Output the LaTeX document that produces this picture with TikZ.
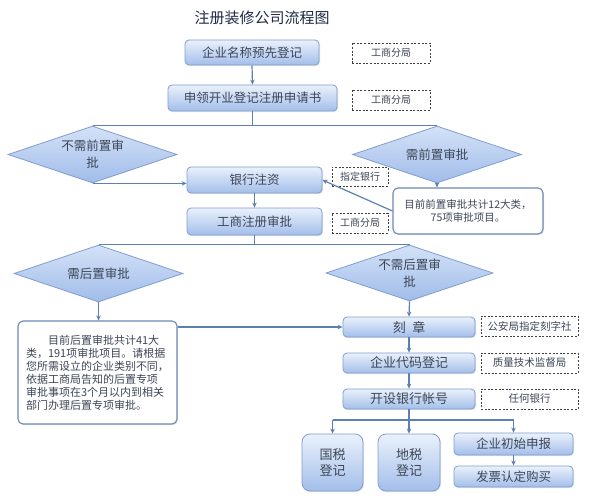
\documentclass[tikz,border=0pt]{standalone}
\usepackage{fontspec}
\setmainfont{Noto Sans CJK SC}
\usetikzlibrary{shapes.geometric,arrows.meta,shadows}
\definecolor{txt}{HTML}{3C4657}
\definecolor{ttl}{HTML}{1E2A44}
\definecolor{ln}{HTML}{5E7FB3}
\definecolor{bd}{HTML}{7F9DD0}
\definecolor{ctop}{HTML}{EAF1FB}
\definecolor{cbot}{HTML}{A3BEEA}
\definecolor{dtop}{HTML}{D4E2F7}
\definecolor{dbot}{HTML}{A0BCE9}
\definecolor{nbd}{HTML}{6E88B8}
\begin{document}
\begin{tikzpicture}[x=1pt,y=-1pt,
  every node/.style={text=txt, inner sep=0pt},
  box/.style={draw=bd, line width=0.8pt, rounded corners=4pt, top color=ctop, bottom color=cbot,
    drop shadow={shadow xshift=1pt,shadow yshift=-1.2pt,opacity=0.22},
    font=\fontsize{12.5}{15}\selectfont, align=center},
  bigbox/.style={box, font=\fontsize{13}{16}\selectfont},
  dia/.style={shape=diamond, aspect=3, draw=bd, line width=0.8pt, top color=dtop, bottom color=dbot,
    font=\fontsize{12.5}{17}\selectfont, align=center},
  dbox/.style={draw=black!75, dashed, dash pattern=on 2pt off 1.6pt, line width=0.7pt, fill=white,
    font=\fontsize{10}{12}\selectfont},
  notebox/.style={draw=nbd, line width=1.1pt, rounded corners=5pt, fill=white,
    drop shadow={shadow xshift=1pt,shadow yshift=-1.2pt,opacity=0.2}},
  conn/.style={draw=ln, line width=1.2pt},
  arr/.style={conn, -{Stealth[length=5pt,width=4.5pt]}}
]
\fill[white] (0,0) rectangle (597,500);
\useasboundingbox (0,0) rectangle (597,500);

\node[text=ttl, font=\fontsize{15}{18}\selectfont] (title) at (262,18) {注册装修公司流程图};

\node[box, minimum width=134pt, minimum height=25pt] (b1) at (252,52.5) {企业名称预先登记};
\node[dbox, minimum width=78pt, minimum height=20pt] (d1) at (391,53) {工商分局};
\node[box, minimum width=169pt, minimum height=26pt] (b2) at (252.5,98) {申领开业登记注册申请书};
\node[dbox, minimum width=78pt, minimum height=20pt] (d2) at (391,100) {工商分局};

\node[dia, minimum width=169pt, minimum height=57pt] (dia1) at (92.5,154.5) {不需前置审\\批};
\node[dia, minimum width=169pt, minimum height=57pt] (dia2) at (437,154.5) {需前置审批};

\node[box, minimum width=135pt, minimum height=26pt] (b3) at (254.5,180) {银行注资};
\node[dbox, minimum width=56pt, minimum height=19pt] (d3) at (360,176.5) {指定银行};
\node[notebox, minimum width=150pt, minimum height=46pt, align=center,
  font=\fontsize{10.5}{13}\selectfont] (n1) at (468,211) {目前前置审批共计12大类，\\75项审批项目。};
\node[box, minimum width=135pt, minimum height=27pt] (b4) at (254.5,221.5) {工商注册审批};
\node[dbox, minimum width=56pt, minimum height=20pt] (d4) at (360,223) {工商分局};

\node[dia, minimum width=169pt, minimum height=57pt] (dia3) at (98.5,273.5) {需后置审批};
\node[dia, minimum width=167pt, minimum height=56pt] (dia4) at (409.5,273) {不需后置审\\批};

\node[notebox, minimum width=159pt, minimum height=103pt] (n2) at (97.5,372.5) {};
\node[text width=143pt, align=left, font=\fontsize{11}{13}\selectfont] (n2t) at (n2.center)
  {\hspace*{2em}目前后置审批共计41大\\类，191项审批项目。请根据\\您所需设立的企业类别不同，\\依据工商局告知的后置专项\\审批事项在3个月以内到相关\\部门办理后置专项审批。};

\node[bigbox, minimum width=132pt, minimum height=20pt] (b5) at (409,327) {刻\hspace{0.5em}章};
\node[dbox, minimum width=97pt, minimum height=20pt, font=\fontsize{10.5}{12}\selectfont] (d5) at (529.5,326) {公安局指定刻字社};
\node[bigbox, minimum width=132pt, minimum height=20pt] (b6) at (409,363) {企业代码登记};
\node[dbox, minimum width=97pt, minimum height=20pt, font=\fontsize{10.5}{12}\selectfont] (d6) at (529.5,363) {质量技术监督局};
\node[bigbox, minimum width=132pt, minimum height=20pt] (b7) at (409,399) {开设银行帐号};
\node[dbox, minimum width=97pt, minimum height=20pt, font=\fontsize{10.5}{12}\selectfont] (d7) at (529.5,399) {任何银行};

\node[bigbox, rounded corners=8pt, minimum width=61pt, minimum height=57pt] (b8) at (332.5,462.5) {国税\\登记};
\node[bigbox, rounded corners=8pt, minimum width=62pt, minimum height=57pt] (b9) at (409,462.5) {地税\\登记};
\node[box, minimum width=119pt, minimum height=22pt] (b10) at (513.5,444) {企业初始申报};
\node[box, minimum width=119pt, minimum height=21pt] (b11) at (513.5,476.5) {发票认定购买};

\coordinate (br) at (409,420);

% connectors
\draw[arr] (b1.south) -- (b2.north);
\draw[conn] (b2.south) -- (b2.south |- dia1.north);
\draw[conn] (dia1.north) -- (dia2.north);
\draw[arr] (dia1.south) -- (dia1.south -| b3.west);
\draw[arr] (dia2.south) -- (n1.north -| dia2.south);
\draw[arr] (n1.west) -- (b3.east);
\draw[arr] (b3.south) -- (b4.north);
\draw[conn] (b4.south) -- (b4.south |- dia3.north);
\draw[conn] (dia3.north) -- (dia4.north);
\draw[arr] (dia3.south) -- (n2.north -| dia3.south);
\draw[arr] (b5.west -| n2.east) -- (b5.west);
\draw[arr] (dia4.south) -- (b5.north);
\draw[arr] (b5.south) -- (b6.north);
\draw[arr] (b6.south) -- (b7.north);
\draw[conn] (b7.south) -- (br);
\draw[conn] (b8.north |- br) -- (b10.north |- br);
\draw[arr] (b8.north |- br) -- (b8.north);
\draw[arr] (br) -- (b9.north);
\draw[arr] (b10.north |- br) -- (b10.north);
\draw[arr] (b10.south) -- (b11.north);
\end{tikzpicture}
\end{document}
